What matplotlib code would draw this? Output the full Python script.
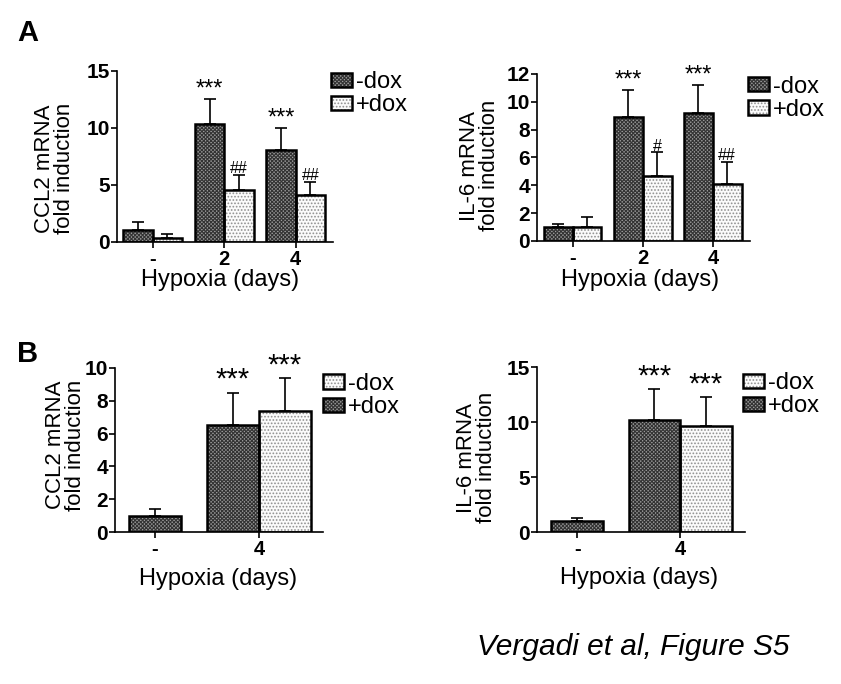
import numpy as np
import matplotlib
matplotlib.use('Agg')
import matplotlib.pyplot as plt
from matplotlib.legend_handler import HandlerTuple

plt.rcParams['font.family'] = ['Liberation Sans', 'DejaVu Sans']
plt.rcParams['hatch.linewidth'] = 0.8

# ---- data ----
a_days = ['-', '2', '4']
a_ccl2_minus = [1.02, 10.38, 8.1]
a_ccl2_minus_err = [0.73, 2.16, 1.9]
a_ccl2_plus = [0.38, 4.59, 4.12]
a_ccl2_plus_err = [0.35, 1.29, 1.17]
a_ccl2_stars = ['', '***', '***']
a_ccl2_hash = ['', '##', '##']

a_il6_minus = [0.98, 8.9, 9.2]
a_il6_minus_err = [0.24, 1.94, 2.03]
a_il6_plus = [0.98, 4.67, 4.1]
a_il6_plus_err = [0.72, 1.7, 1.58]
a_il6_stars = ['', '***', '***']
a_il6_hash = ['', '#', '##']

b_days = ['-', '4']
b_ccl2_dark = [1.0, 6.54]
b_ccl2_dark_err = [0.4, 1.96]
b_ccl2_light = [7.4]
b_ccl2_light_err = [2.0]
b_il6_dark = [0.97, 10.18]
b_il6_dark_err = [0.34, 2.8]
b_il6_light = [9.64]
b_il6_light_err = [2.64]

DARK = dict(color='#9a9a9a', edgecolor='#333333', hatch='xxxxxxxxx', linewidth=0)
LIGHT = dict(color='#fbfbfb', edgecolor='#909090', hatch='.....', linewidth=0)

fig = plt.figure(figsize=(8.41, 6.84), dpi=100)


def style_axis(ax, ylim, yticks, xticks, xlabels, xlim, ylabel, lab_x, lab_y, xl_x, xl_y):
    ax.set_xlim(*xlim)
    ax.set_ylim(*ylim)
    ax.set_yticks(yticks)
    ax.set_xticks(xticks)
    ax.set_xticklabels(xlabels, fontsize=14.5, fontweight='bold')
    for lbl in ax.get_yticklabels():
        lbl.set_fontweight('bold')
        lbl.set_fontsize(15)
    for s in ['top', 'right']:
        ax.spines[s].set_visible(False)
    for s in ['left', 'bottom']:
        ax.spines[s].set_linewidth(1.2)
    ax.tick_params(axis='both', width=1.2, length=4)
    ax.tick_params(axis='y', pad=1)
    ax.tick_params(axis='x', pad=2)
    ax.set_ylabel(ylabel, fontsize=16, linespacing=0.92)
    ax.yaxis.set_label_coords(lab_x, lab_y)
    ax.set_xlabel('Hypoxia (days)', fontsize=17)
    ax.xaxis.set_label_coords(xl_x, xl_y)


def bars(ax, x, h, err, style, w):
    hb = ax.bar(x, h, w, **style, zorder=2)
    ob = ax.bar(x, h, w, fill=False, edgecolor='black', linewidth=1.8, zorder=3)
    ax.errorbar(x, h, yerr=[np.zeros(len(err)), err], fmt='none', ecolor='black',
                elinewidth=1.2, capsize=4, capthick=1.2, zorder=1)
    return (hb, ob)


def mark(ax, x, y, texts, size):
    for xi, yi, t in zip(x, y, texts):
        if t:
            ax.annotate(t, (xi, yi), xytext=(0, -1), textcoords='offset points',
                        ha='center', va='bottom', fontsize=size)


def add_legend(ax, handles, leg_xy):
    ax.legend(handles, ['-dox', '+dox'], loc='upper left', bbox_to_anchor=leg_xy,
              frameon=False, fontsize=17, handlelength=0.9, handleheight=0.55,
              handletextpad=0.15, labelspacing=0.05, borderaxespad=0, borderpad=0,
              handler_map={tuple: HandlerTuple(ndivide=1)})


def panel_a(rect, minus, minus_err, plus, plus_err, stars, hashes, ylim, yticks, ylabel,
            xlim, lab_x, lab_y, xl_x, xl_y, leg_xy):
    ax = fig.add_axes(rect)
    g = np.arange(len(a_days))
    w = 0.41
    h1 = bars(ax, g - w / 2, minus, minus_err, DARK, w)
    h2 = bars(ax, g + w / 2, plus, plus_err, LIGHT, w)
    mark(ax, g - w / 2, np.add(minus, minus_err), stars, 17)
    mark(ax, g + w / 2, np.add(plus, plus_err), hashes, 11.5)
    style_axis(ax, ylim, yticks, g, a_days, xlim, ylabel, lab_x, lab_y, xl_x, xl_y)
    add_legend(ax, [h1, h2], leg_xy)
    return ax


def panel_b(rect, dark, dark_err, light, light_err, ylim, yticks, ylabel, xlim,
            lab_x, lab_y, xl_x, xl_y, leg_xy):
    ax = fig.add_axes(rect)
    g = np.arange(len(b_days))
    w = 0.5
    xd = np.array([g[0], g[1] - w / 2])
    xl = np.array([g[1] + w / 2])
    hd = bars(ax, xd, dark, dark_err, DARK, w)
    hl = bars(ax, xl, light, light_err, LIGHT, w)
    mark(ax, xd[1:], np.add(dark, dark_err)[1:], ['***'], 21)
    mark(ax, xl, np.add(light, light_err), ['***'], 21)
    style_axis(ax, ylim, yticks, g, b_days, xlim, ylabel, lab_x, lab_y, xl_x, xl_y)
    add_legend(ax, [hl, hd], leg_xy)
    return ax


panel_a([0.1391, 0.6462, 0.2568, 0.25], a_ccl2_minus, a_ccl2_minus_err, a_ccl2_plus,
        a_ccl2_plus_err, a_ccl2_stars, a_ccl2_hash, (0, 15), [0, 5, 10, 15],
        'CCL2 mRNA\nfold induction', (-0.5, 2.52), -0.194, 0.43, 0.477, -0.16, (0.99, 1.0))
panel_a([0.6385, 0.6477, 0.2533, 0.2442], a_il6_minus, a_il6_minus_err, a_il6_plus,
        a_il6_plus_err, a_il6_stars, a_il6_hash, (0, 12), [0, 2, 4, 6, 8, 10, 12],
        'IL-6 mRNA\nfold induction', (-0.51, 2.53), -0.174, 0.45, 0.484, -0.17, (0.99, 0.99))
panel_b([0.1367, 0.2222, 0.2473, 0.2398], b_ccl2_dark, b_ccl2_dark_err, b_ccl2_light,
        b_ccl2_light_err, (0, 10), [0, 2, 4, 6, 8, 10], 'CCL2 mRNA\nfold induction',
        (-0.385, 1.615), -0.14, 0.53, 0.495, -0.22, (1.0, 0.97))
panel_b([0.6385, 0.2222, 0.2473, 0.2412], b_il6_dark, b_il6_dark_err, b_il6_light,
        b_il6_light_err, (0, 15), [0, 5, 10, 15], 'IL-6 mRNA\nfold induction',
        (-0.39, 1.63), -0.192, 0.45, 0.49, -0.21, (0.99, 0.97))

fig.text(17 / 841, 1 - 41 / 684, 'A', fontsize=21, fontweight='bold', ha='left', va='baseline')
fig.text(17 / 841, 1 - 362 / 684, 'B', fontsize=21, fontweight='bold', ha='left', va='baseline')
fig.text(477 / 841, 1 - 655 / 684, 'Vergadi et al, Figure S5', fontsize=21.5,
         style='italic', ha='left', va='baseline')

fig.savefig('out.png', dpi=100)
